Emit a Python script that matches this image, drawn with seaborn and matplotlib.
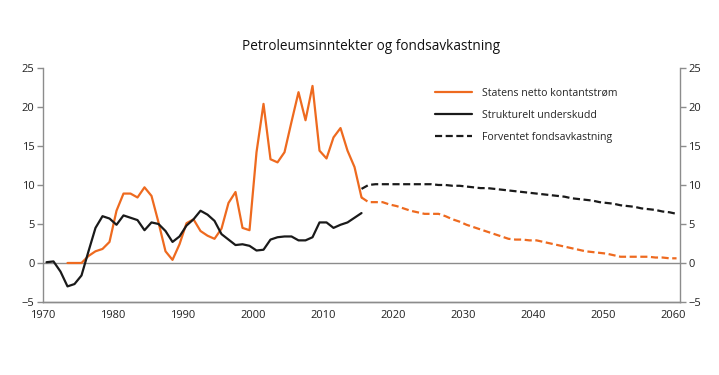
import seaborn as sns
import matplotlib.pyplot as plt
import numpy as np
import pandas as pd

# historiske tall (prosent av trend-BNP), lest av figuren
hist_years = np.arange(1970, 2016)
underskudd = [0.1, 0.2, -1.1, -3.0, -2.7, -1.6, 1.5, 4.5, 6.0, 5.7,
              4.9, 6.1, 5.8, 5.5, 4.2, 5.2, 5.0, 4.1, 2.7, 3.4,
              4.8, 5.6, 6.7, 6.2, 5.4, 3.7, 3.0, 2.3, 2.4, 2.2,
              1.6, 1.7, 3.0, 3.3, 3.4, 3.4, 2.9, 2.9, 3.3, 5.2,
              5.2, 4.5, 4.9, 5.2, 5.8, 6.4]

kontant_years = np.arange(1973, 2016)
kontantstrom = [0.0, 0.0, 0.0, 0.9, 1.5, 1.8, 2.7,
                6.7, 8.9, 8.9, 8.4, 9.7, 8.6, 5.2, 1.5, 0.4, 2.4,
                5.1, 5.6, 4.1, 3.5, 3.1, 4.4, 7.7, 9.1, 4.5, 4.2,
                14.2, 20.4, 13.3, 12.9, 14.2, 18.1, 21.9, 18.3, 22.7, 14.4,
                13.4, 16.1, 17.3, 14.4, 12.3, 8.4]

# framskrivinger
proj_years = np.arange(2015, 2061)
kontant_proj = [8.4, 7.8, 7.8, 7.8, 7.5, 7.3, 7.0, 6.7, 6.5, 6.3,
                6.3, 6.3, 6.0, 5.6, 5.3, 4.9, 4.6, 4.3, 4.0, 3.7,
                3.4, 3.1, 3.0, 3.0, 2.9, 2.9, 2.7, 2.5, 2.3, 2.1,
                1.9, 1.7, 1.5, 1.4, 1.3, 1.2, 1.0, 0.8, 0.8, 0.8,
                0.8, 0.8, 0.7, 0.7, 0.6, 0.6]
fondsavk = [9.5, 10.0, 10.1, 10.1, 10.1, 10.1, 10.1, 10.1, 10.1, 10.1,
            10.1, 10.0, 10.0, 9.9, 9.9, 9.8, 9.7, 9.6, 9.6, 9.5,
            9.4, 9.3, 9.2, 9.1, 9.0, 8.9, 8.8, 8.7, 8.6, 8.5,
            8.3, 8.2, 8.1, 8.0, 7.8, 7.7, 7.6, 7.4, 7.3, 7.2,
            7.0, 6.9, 6.8, 6.6, 6.5, 6.3]

yticks = [-5, 0, 5, 10, 15, 20, 25]
xticks = [1970, 1980, 1990, 2000, 2010, 2020, 2030, 2040, 2050, 2060]

orange = '#ee6a1f'
black = '#1a1a1a'
grey = '#8c8c8c'

sns.set_style('white')
plt.rcParams['font.family'] = ['Open Sans', 'DejaVu Sans']

fig = plt.figure(figsize=(7.19, 3.75), dpi=100)
ax = fig.add_axes([0.0598, 0.1947, 0.8860, 0.6240])

# punktene ligger midt i året
df_k = pd.DataFrame({'x': kontant_years + 0.5, 'y': kontantstrom})
df_u = pd.DataFrame({'x': hist_years + 0.5, 'y': underskudd})
df_kp = pd.DataFrame({'x': proj_years + 0.5, 'y': kontant_proj})
df_f = pd.DataFrame({'x': proj_years + 0.5, 'y': fondsavk})

ax.axhline(0, color=grey, lw=1, zorder=1)
sns.lineplot(data=df_k, x='x', y='y', ax=ax, color=orange, lw=1.6, label='Statens netto kontantstrøm')
sns.lineplot(data=df_u, x='x', y='y', ax=ax, color=black, lw=1.6, label='Strukturelt underskudd')
sns.lineplot(data=df_f, x='x', y='y', ax=ax, color=black, lw=1.6, ls=(0, (3.2, 1.6)), label='Forventet fondsavkastning')
sns.lineplot(data=df_kp, x='x', y='y', ax=ax, color=orange, lw=1.6, ls=(0, (3.2, 1.6)))

ax.set_xlim(1970, 2061)
ax.set_ylim(-5, 25)
ax.set_xticks(xticks)
ax.set_yticks(yticks)
ax.set_xlabel('')
ax.set_ylabel('')

ax2 = ax.twinx()
ax2.set_ylim(-5, 25)
ax2.set_yticks(yticks)

for a in (ax, ax2):
    a.spines['top'].set_visible(False)
    for s in ('left', 'right', 'bottom'):
        a.spines[s].set_color(grey)
        a.spines[s].set_linewidth(1)
    a.tick_params(axis='both', direction='out', length=4, width=1, color=grey,
                  labelsize=8, labelcolor='#222222', pad=2)
ax2.spines['left'].set_visible(False)
ax.spines['right'].set_visible(False)

ax.legend(loc='upper left', bbox_to_anchor=(0.6, 0.955), frameon=False, fontsize=7.6,
          handlelength=3.5, labelspacing=1.05, handletextpad=0.95)

fig.suptitle('Petroleumsinntekter og fondsavkastning', x=0.516, y=0.897, fontsize=9.8, color='#111111')

plt.savefig('out.png', dpi=100)
